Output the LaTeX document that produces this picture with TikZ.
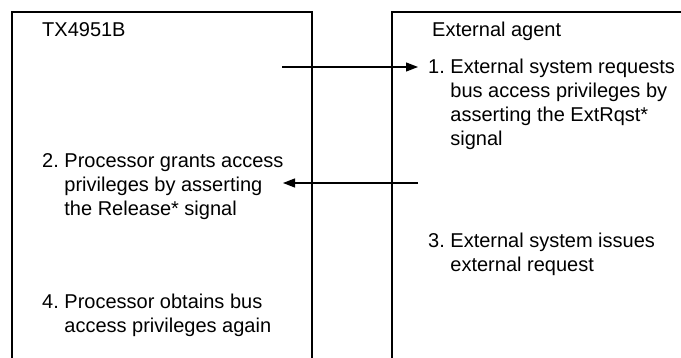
\documentclass[tikz,border=0pt]{standalone}
\usepackage{fontspec}
\setmainfont{Liberation Sans}
\usetikzlibrary{arrows.meta,positioning}

% room for the step number, so the following lines line up
\newcommand\numgap{\hphantom{0.\ }}

\begin{document}
\begin{tikzpicture}[
  x=1pt, y=-1pt,
  frame/.style={draw=black, line width=1.2pt},
  steptext/.style={anchor=base west, inner sep=0pt, font=\fontsize{20}{23.8}\selectfont},
  arr/.style={-{Triangle[length=12pt,width=9pt]}, line width=1.2pt}]
\useasboundingbox (0,0) rectangle (681,358);

% the two sides
\draw[frame] (12,358) -- (12,12) -- (312,12) -- (312,358);
\draw[frame] (392,358) -- (392,12) -- (681,12);

\node[steptext] (cpu) at (42,37) {TX4951B};
\node[steptext] (ext) at (432,37) {External agent};

\node[steptext] (s1) at (428,74) {\begin{tabular}[t]{@{}l@{}}
  1.\ External system requests\\
  \numgap bus access privileges by\\
  \numgap asserting the ExtRqst*\\
  \numgap signal\end{tabular}};
\node[steptext] (s2) at (42,168) {\begin{tabular}[t]{@{}l@{}}
  2.\ Processor grants access\\
  \numgap privileges by asserting\\
  \numgap the Release* signal\end{tabular}};
\node[steptext] (s3) at (428,248) {\begin{tabular}[t]{@{}l@{}}
  3.\ External system issues\\
  \numgap external request\end{tabular}};
\node[steptext] (s4) at (42,309) {\begin{tabular}[t]{@{}l@{}}
  4.\ Processor obtains bus\\
  \numgap access privileges again\end{tabular}};

% handshake signals
\coordinate (rqst-a) at (282,67);
\coordinate (rqst-b) at (418,67);
\coordinate (rel-a) at (418,183);
\coordinate (rel-b) at (283,183);
\draw[arr] (rqst-a) -- (rqst-b);
\draw[arr] (rel-a) -- (rel-b);
\end{tikzpicture}
\end{document}
